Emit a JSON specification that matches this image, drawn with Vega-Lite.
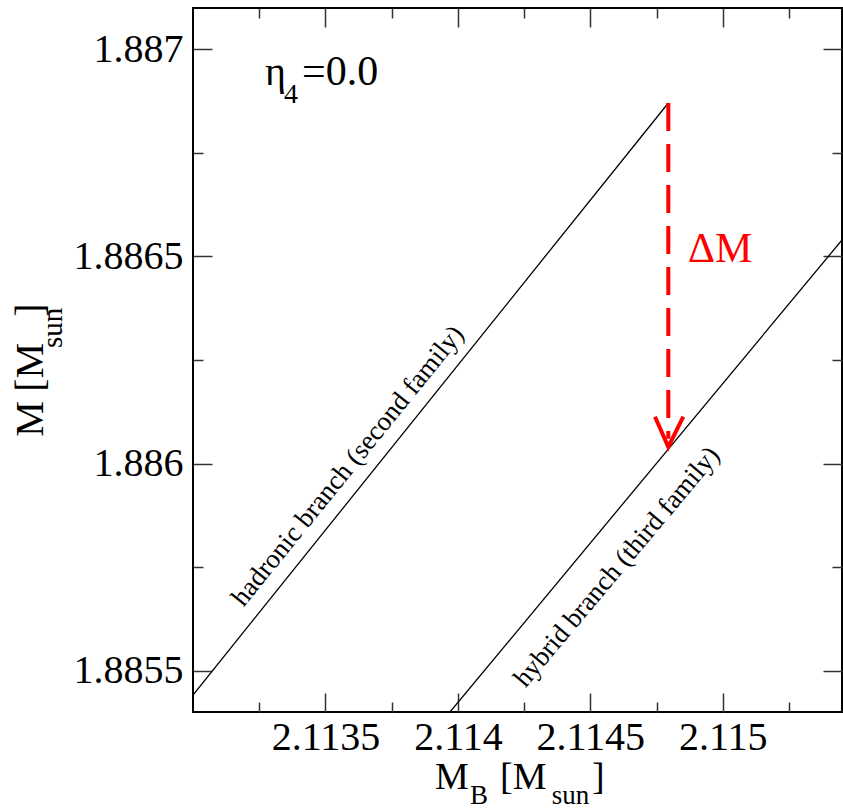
{
  "$schema": "https://vega.github.io/schema/vega-lite/v6.json",
  "width": 649,
  "height": 704,
  "autosize": "none",
  "padding": {"left": 193, "top": 8, "right": 1, "bottom": 98},
  "background": "white",
  "config": {
    "view": {"stroke": "black", "strokeWidth": 2},
    "axis": {"domain": false, "grid": false, "title": null, "tickColor": "#333333", "tickWidth": 1.5, "offset": 0, "labelFont": "Liberation Serif", "labelFontSize": 40, "labelColor": "black", "labelFlush": false, "labelOverlap": false, "format": ".4~f"},
    "text": {"font": "Liberation Serif", "color": "black"}
  },
  "datasets": {
    "curves": [
      {"branch": "hadronic", "mb": 2.113, "m": 1.885441},
      {"branch": "hadronic", "mb": 2.1147943, "m": 1.8868706},
      {"branch": "hybrid", "mb": 2.1139702, "m": 1.8854},
      {"branch": "hybrid", "mb": 2.11545, "m": 1.8865398}
    ],
    "shaft": [
      {"mb": 2.1147943, "m": 1.8868706, "o": 1},
      {"mb": 2.1147943, "m": 1.88606, "o": 2}
    ],
    "head": [
      {"mb": 2.1147441, "m": 1.8861131},
      {"mb": 2.1147943, "m": 1.88604},
      {"mb": 2.1148509, "m": 1.8861131}
    ],
    "texts": [
      {"kind": "xmain", "t": "M", "mb": 2.11391356, "m": 1.88521406},
      {"kind": "xsub", "t": "B", "mb": 2.1140457, "m": 1.88517784},
      {"kind": "xmain", "t": "[M", "mb": 2.11415893, "m": 1.88521406},
      {"kind": "xsub", "t": "sun", "mb": 2.11435409, "m": 1.88517784},
      {"kind": "xmain", "t": "]", "mb": 2.11450624, "m": 1.88521406},
      {"kind": "ymain", "t": "M", "mb": 2.11243374, "m": 1.88606479},
      {"kind": "ymain", "t": "[M", "mb": 2.11243374, "m": 1.88617345},
      {"kind": "ysub", "t": "sun", "mb": 2.11250547, "m": 1.88627898},
      {"kind": "ymain", "t": "]", "mb": 2.11243374, "m": 1.88635456},
      {"kind": "note", "t": "η", "mb": 2.1132718, "m": 1.8869141},
      {"kind": "notesub", "t": "4", "mb": 2.11334353, "m": 1.8868699},
      {"kind": "noteeq", "t": "=0.0", "mb": 2.11341148, "m": 1.8869141},
      {"kind": "red", "t": "ΔM", "mb": 2.1148687, "m": 1.8864867},
      {"kind": "rot1", "t": "hadronic branch (second family)", "mb": 2.1135851, "m": 1.885994},
      {"kind": "rot2", "t": "hybrid branch (third family)", "mb": 2.1146006, "m": 1.8857501}
    ]
  },
  "layer": [
    {
      "data": {"name": "curves"},
      "transform": [{"filter": "datum.branch === 'hadronic'"}],
      "mark": {"type": "line", "color": "black", "strokeWidth": 1.3, "clip": true},
      "encoding": {
        "x": {"field": "mb", "type": "quantitative", "scale": {"domain": [2.113, 2.11545], "nice": false, "zero": false},
          "axis": {"orient": "bottom", "values": [2.1135, 2.114, 2.1145, 2.115], "tickSize": -19, "labelPadding": 24}},
        "y": {"field": "m", "type": "quantitative", "scale": {"domain": [1.8854, 1.8871], "nice": false, "zero": false},
          "axis": {"orient": "left", "values": [1.8855, 1.886, 1.8865, 1.887], "tickSize": -19, "labelPadding": 29}}
      }
    },
    {
      "data": {"name": "curves"},
      "transform": [{"filter": "datum.branch === 'hybrid'"}],
      "mark": {"type": "line", "color": "black", "strokeWidth": 1.3, "clip": true},
      "encoding": {
        "x": {"field": "mb", "type": "quantitative", "scale": {"domain": [2.113, 2.11545], "nice": false, "zero": false},
          "axis": {"orient": "bottom", "values": [2.11325, 2.11375, 2.11425, 2.11475, 2.11525], "tickSize": -10, "labels": false}},
        "y": {"field": "m", "type": "quantitative", "scale": {"domain": [1.8854, 1.8871], "nice": false, "zero": false},
          "axis": {"orient": "left", "values": [1.88575, 1.88625, 1.88675], "tickSize": -10, "labels": false}}
      }
    },
    {
      "data": {"name": "shaft"},
      "mark": {"type": "line", "color": "#ff0000", "strokeWidth": 4, "strokeDash": [28, 13], "strokeCap": "butt"},
      "encoding": {
        "x": {"field": "mb", "type": "quantitative", "scale": {"domain": [2.113, 2.11545], "nice": false, "zero": false},
          "axis": {"orient": "top", "values": [2.1135, 2.114, 2.1145, 2.115], "tickSize": -19, "labels": false}},
        "y": {"field": "m", "type": "quantitative", "scale": {"domain": [1.8854, 1.8871], "nice": false, "zero": false},
          "axis": {"orient": "right", "values": [1.8855, 1.886, 1.8865, 1.887], "tickSize": -19, "labels": false}},
        "order": {"field": "o", "type": "quantitative"}
      }
    },
    {
      "data": {"name": "head"},
      "mark": {"type": "line", "color": "#ff0000", "strokeWidth": 4, "strokeJoin": "miter"},
      "encoding": {
        "x": {"field": "mb", "type": "quantitative", "scale": {"domain": [2.113, 2.11545], "nice": false, "zero": false},
          "axis": {"orient": "top", "values": [2.11325, 2.11375, 2.11425, 2.11475, 2.11525], "tickSize": -10, "labels": false}},
        "y": {"field": "m", "type": "quantitative", "scale": {"domain": [1.8854, 1.8871], "nice": false, "zero": false},
          "axis": {"orient": "right", "values": [1.88575, 1.88625, 1.88675], "tickSize": -10, "labels": false}}
      }
    },
    {
      "data": {"name": "texts"},
      "transform": [{"filter": "datum.kind === 'xmain'"}],
      "mark": {"type": "text", "fontSize": 38, "align": "left", "baseline": "alphabetic"},
      "encoding": {
        "x": {"field": "mb", "type": "quantitative", "scale": {"domain": [2.113, 2.11545], "nice": false, "zero": false}, "axis": null},
        "y": {"field": "m", "type": "quantitative", "scale": {"domain": [1.8854, 1.8871], "nice": false, "zero": false}, "axis": null},
        "text": {"field": "t"}
      }
    },
    {
      "data": {"name": "texts"},
      "transform": [{"filter": "datum.kind === 'xsub'"}],
      "mark": {"type": "text", "fontSize": 27, "align": "left", "baseline": "alphabetic"},
      "encoding": {
        "x": {"field": "mb", "type": "quantitative", "scale": {"domain": [2.113, 2.11545], "nice": false, "zero": false}, "axis": null},
        "y": {"field": "m", "type": "quantitative", "scale": {"domain": [1.8854, 1.8871], "nice": false, "zero": false}, "axis": null},
        "text": {"field": "t"}
      }
    },
    {
      "data": {"name": "texts"},
      "transform": [{"filter": "datum.kind === 'ymain'"}],
      "mark": {"type": "text", "fontSize": 40, "align": "left", "baseline": "alphabetic", "angle": 270},
      "encoding": {
        "x": {"field": "mb", "type": "quantitative", "scale": {"domain": [2.113, 2.11545], "nice": false, "zero": false}, "axis": null},
        "y": {"field": "m", "type": "quantitative", "scale": {"domain": [1.8854, 1.8871], "nice": false, "zero": false}, "axis": null},
        "text": {"field": "t"}
      }
    },
    {
      "data": {"name": "texts"},
      "transform": [{"filter": "datum.kind === 'ysub'"}],
      "mark": {"type": "text", "fontSize": 29, "align": "left", "baseline": "alphabetic", "angle": 270},
      "encoding": {
        "x": {"field": "mb", "type": "quantitative", "scale": {"domain": [2.113, 2.11545], "nice": false, "zero": false}, "axis": null},
        "y": {"field": "m", "type": "quantitative", "scale": {"domain": [1.8854, 1.8871], "nice": false, "zero": false}, "axis": null},
        "text": {"field": "t"}
      }
    },
    {
      "data": {"name": "texts"},
      "transform": [{"filter": "datum.kind === 'note'"}],
      "mark": {"type": "text", "fontSize": 40, "align": "left", "baseline": "alphabetic"},
      "encoding": {
        "x": {"field": "mb", "type": "quantitative", "scale": {"domain": [2.113, 2.11545], "nice": false, "zero": false}, "axis": null},
        "y": {"field": "m", "type": "quantitative", "scale": {"domain": [1.8854, 1.8871], "nice": false, "zero": false}, "axis": null},
        "text": {"field": "t"}
      }
    },
    {
      "data": {"name": "texts"},
      "transform": [{"filter": "datum.kind === 'noteeq'"}],
      "mark": {"type": "text", "fontSize": 42, "align": "left", "baseline": "alphabetic"},
      "encoding": {
        "x": {"field": "mb", "type": "quantitative", "scale": {"domain": [2.113, 2.11545], "nice": false, "zero": false}, "axis": null},
        "y": {"field": "m", "type": "quantitative", "scale": {"domain": [1.8854, 1.8871], "nice": false, "zero": false}, "axis": null},
        "text": {"field": "t"}
      }
    },
    {
      "data": {"name": "texts"},
      "transform": [{"filter": "datum.kind === 'notesub'"}],
      "mark": {"type": "text", "fontSize": 28, "align": "left", "baseline": "alphabetic"},
      "encoding": {
        "x": {"field": "mb", "type": "quantitative", "scale": {"domain": [2.113, 2.11545], "nice": false, "zero": false}, "axis": null},
        "y": {"field": "m", "type": "quantitative", "scale": {"domain": [1.8854, 1.8871], "nice": false, "zero": false}, "axis": null},
        "text": {"field": "t"}
      }
    },
    {
      "data": {"name": "texts"},
      "transform": [{"filter": "datum.kind === 'red'"}],
      "mark": {"type": "text", "fontSize": 42, "align": "left", "baseline": "alphabetic", "color": "#ff0000"},
      "encoding": {
        "x": {"field": "mb", "type": "quantitative", "scale": {"domain": [2.113, 2.11545], "nice": false, "zero": false}, "axis": null},
        "y": {"field": "m", "type": "quantitative", "scale": {"domain": [1.8854, 1.8871], "nice": false, "zero": false}, "axis": null},
        "text": {"field": "t"}
      }
    },
    {
      "data": {"name": "texts"},
      "transform": [{"filter": "datum.kind === 'rot1'"}],
      "mark": {"type": "text", "fontSize": 27, "align": "center", "baseline": "middle", "angle": 309},
      "encoding": {
        "x": {"field": "mb", "type": "quantitative", "scale": {"domain": [2.113, 2.11545], "nice": false, "zero": false}, "axis": null},
        "y": {"field": "m", "type": "quantitative", "scale": {"domain": [1.8854, 1.8871], "nice": false, "zero": false}, "axis": null},
        "text": {"field": "t"}
      }
    },
    {
      "data": {"name": "texts"},
      "transform": [{"filter": "datum.kind === 'rot2'"}],
      "mark": {"type": "text", "fontSize": 27, "align": "center", "baseline": "middle", "angle": 310},
      "encoding": {
        "x": {"field": "mb", "type": "quantitative", "scale": {"domain": [2.113, 2.11545], "nice": false, "zero": false}, "axis": null},
        "y": {"field": "m", "type": "quantitative", "scale": {"domain": [1.8854, 1.8871], "nice": false, "zero": false}, "axis": null},
        "text": {"field": "t"}
      }
    }
  ],
  "resolve": {"axis": {"x": "independent", "y": "independent"}}
}
